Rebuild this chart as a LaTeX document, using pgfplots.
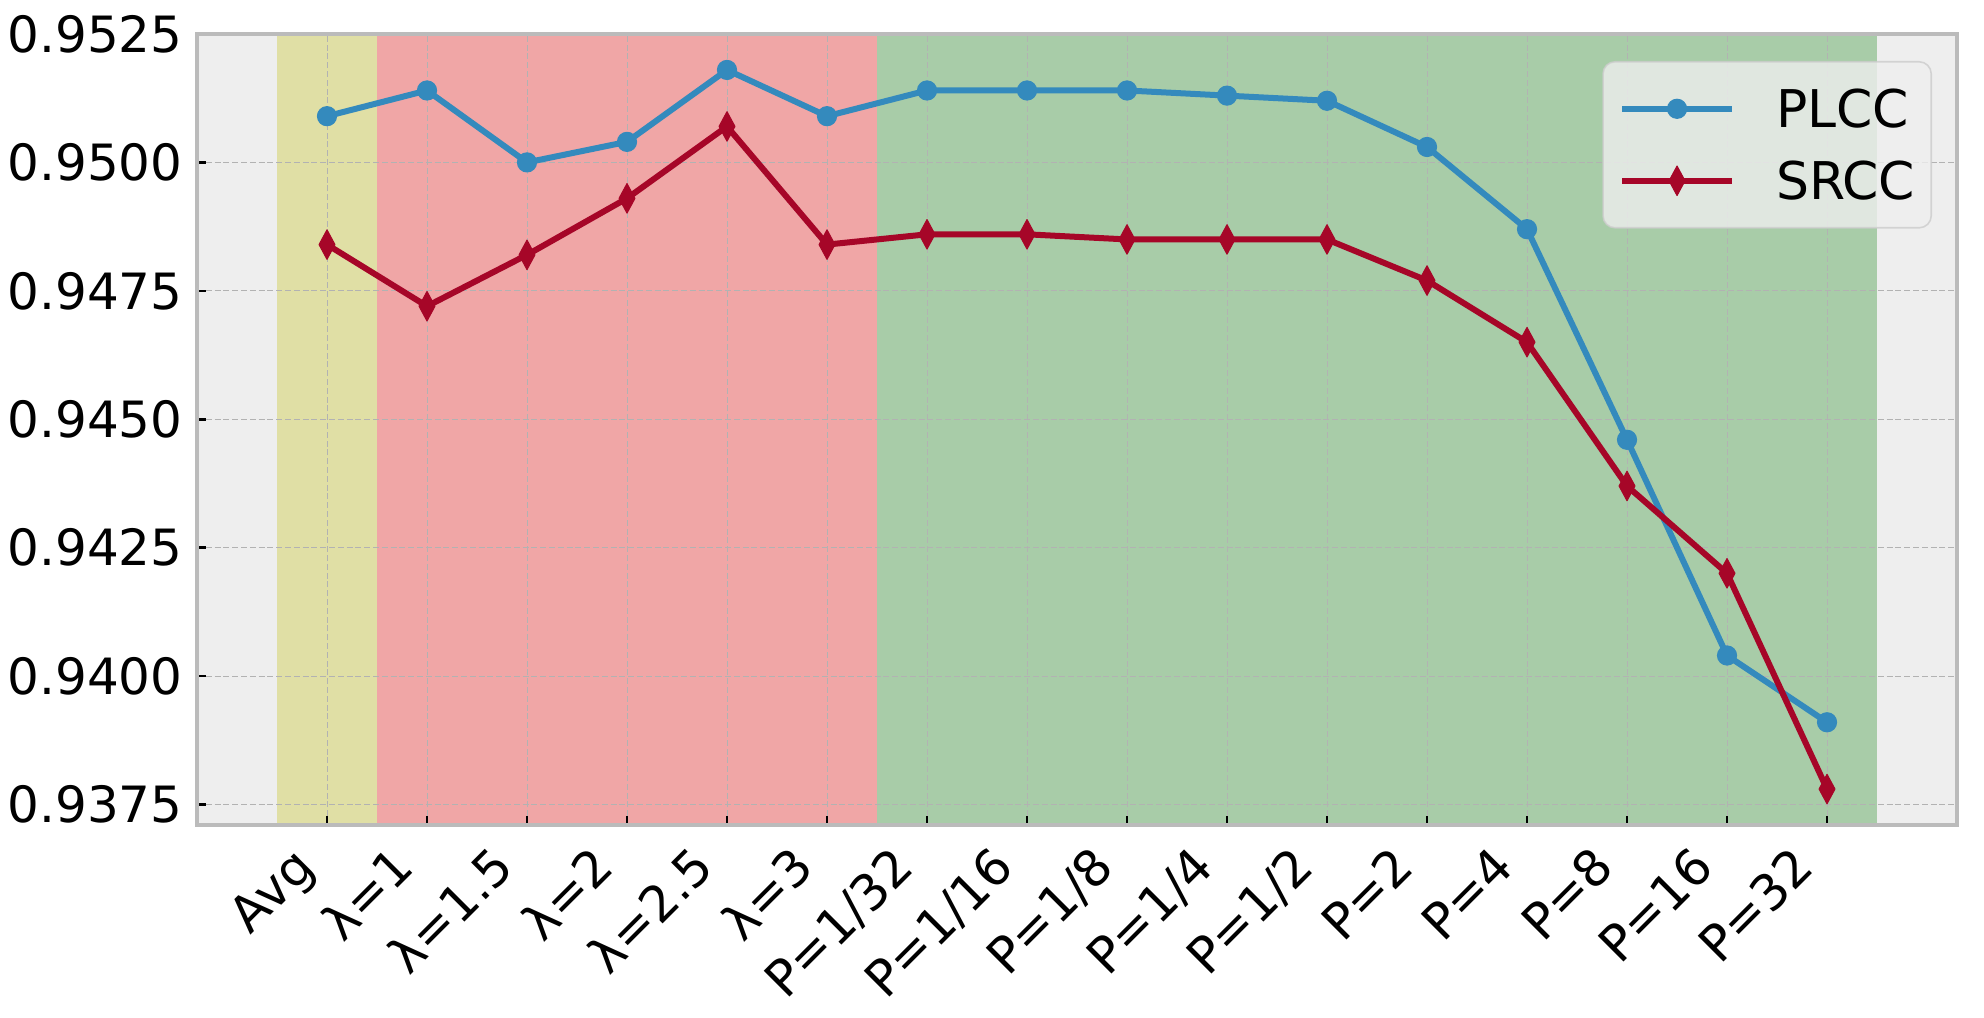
\documentclass[border=0pt]{standalone}
\usepackage{fontspec}
\setmainfont{DejaVu Sans}
\usepackage{pgfplots}
\pgfplotsset{compat=1.18}
\definecolor{bgray}{RGB}{238,238,238}
\definecolor{spanY}{RGB}{224,223,165}
\definecolor{spanR}{RGB}{240,166,166}
\definecolor{spanG}{RGB}{168,204,168}
\definecolor{plcc}{HTML}{348ABD}
\definecolor{srcc}{HTML}{A60628}
\definecolor{gridc}{RGB}{178,178,178}
\definecolor{framec}{RGB}{187,187,187}
\definecolor{legc}{RGB}{204,204,204}
\pgfplotsset{
  layers/my layers/.define layer set={axis background,spans,axis grid,axis ticks,axis lines,axis tick labels,main,axis descriptions,axis foreground}{/pgfplots/layers/standard},
}
\begin{document}
\begin{tikzpicture}
\path (0,0) rectangle (992pt,508.5pt);
\begin{axis}[
  set layers=my layers,
  at={(98.5pt,96pt)}, anchor=south west,
  scale only axis, width=880pt, height=395.5pt,
  xmin=-1.3, xmax=16.3, ymin=0.9371, ymax=0.9525,
  axis background/.style={fill=bgray},
  axis line style={framec, line width=1.7pt},
  xtick={0,...,15},
  xticklabels={Avg,λ=1,λ=1.5,λ=2,λ=2.5,λ=3,P=1/32,P=1/16,P=1/8,P=1/4,P=1/2,P=2,P=4,P=8,P=16,P=32},
  ytick={0.9375,0.9400,0.9425,0.9450,0.9475,0.9500,0.9525},
  yticklabels={0.9375,0.9400,0.9425,0.9450,0.9475,0.9500,0.9525},
  tick pos=left, tick align=inside,
  major tick length=4.5pt,
  tick style={black, line width=1.3pt},
  grid=major,
  major grid style={gridc, line width=0.5pt, dash pattern=on 3pt off 1.4pt},
  ticklabel style={font=\fontsize{25}{30}\selectfont, inner sep=0pt},
  yticklabel style={anchor=east, xshift=-7pt},
  xticklabel style={xshift=-18pt, yshift=-9.5pt, rotate=45, anchor=north east, text height=18pt, text depth=0pt},
  legend cell align=left,
  legend style={
    at={(1,1)}, anchor=north east, xshift=-12.5pt, yshift=-13.5pt,
    font=\fontsize{26}{31}\selectfont,
    fill=bgray, fill opacity=0.8, draw=legc, draw opacity=0.8, text opacity=1,
    rounded corners=6pt, line width=0.8pt,
    inner xsep=8pt, inner ysep=14pt,
    row sep=17pt,
    nodes={inner sep=0pt, text height=19pt, text depth=0pt},
    /tikz/every odd column/.append style={column sep=20.5pt},
  },
  legend image code/.code={\draw[opacity=1, mark repeat=2, mark phase=2] plot coordinates {(0pt,0pt) (27.5pt,0pt) (55pt,0pt)};},
]
\addplot[on layer=spans, fill=spanY, draw=none, forget plot] coordinates {(-0.5,0.9371) (0.5,0.9371) (0.5,0.9525) (-0.5,0.9525)} -- cycle;
\addplot[on layer=spans, fill=spanR, draw=none, forget plot] coordinates {(0.5,0.9371) (5.5,0.9371) (5.5,0.9525) (0.5,0.9525)} -- cycle;
\addplot[on layer=spans, fill=spanG, draw=none, forget plot] coordinates {(5.5,0.9371) (15.5,0.9371) (15.5,0.9525) (5.5,0.9525)} -- cycle;
\addplot[plcc, line width=3pt, line join=round, mark=*, mark size=4.8pt, mark options={solid, line width=0.5pt}] coordinates {
(0,0.9509)(1,0.9514)(2,0.9500)(3,0.9504)(4,0.9518)(5,0.9509)(6,0.9514)(7,0.9514)(8,0.9514)(9,0.9513)(10,0.9512)(11,0.9503)(12,0.9487)(13,0.9446)(14,0.9404)(15,0.9391)};
\addlegendentry{PLCC}
\addplot[srcc, line width=3pt, line join=round, mark=diamond*, mark size=7.4pt, mark options={solid, line width=0.5pt, xscale=0.72}] coordinates {
(0,0.9484)(1,0.9472)(2,0.9482)(3,0.9493)(4,0.9507)(5,0.9484)(6,0.9486)(7,0.9486)(8,0.9485)(9,0.9485)(10,0.9485)(11,0.9477)(12,0.9465)(13,0.9437)(14,0.9420)(15,0.9378)};
\addlegendentry{SRCC}
\end{axis}
\end{tikzpicture}
\end{document}
